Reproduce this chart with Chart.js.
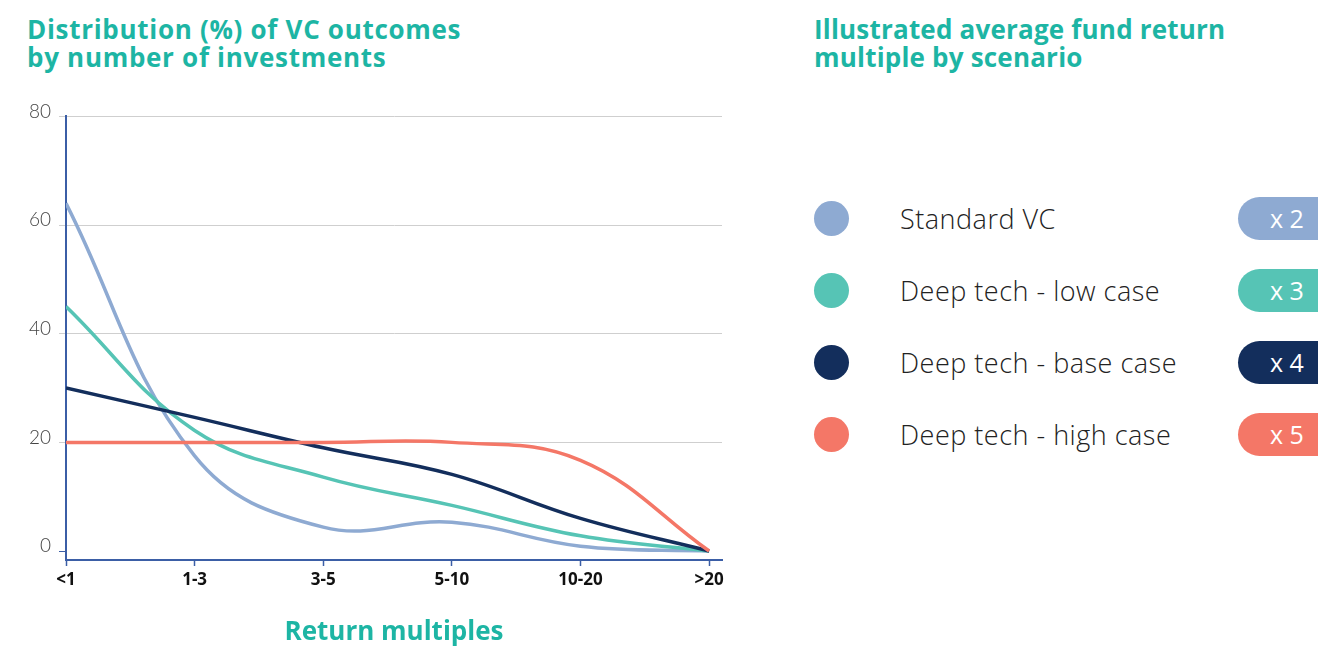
<!DOCTYPE html>
<html>
<head>
<meta charset="utf-8">
<script src="https://cdn.jsdelivr.net/npm/chart.js@4.4.1/dist/chart.umd.min.js"></script>
<style>
  html, body { margin: 0; padding: 0; background: #fff; }
  body { width: 1318px; height: 648px; overflow: hidden; position: relative; font-family: Lato, "Open Sans", sans-serif; }
  .title { position: absolute; color: #1db5a4; font-family: "Open Sans", sans-serif; font-weight: 700; font-size: 26px; letter-spacing: 0.4px; line-height: 28px; }
  #chartBox { position: absolute; left: 0; top: 97px; width: 740px; height: 551px; }
  .row { position: absolute; left: 814px; height: 44px; width: 520px; }
  .dot { position: absolute; left: 0; top: 4px; width: 35px; height: 35px; border-radius: 50%; }
  .label { position: absolute; left: 86px; top: 0; line-height: 44px; font-size: 27px; letter-spacing: 0.5px; font-weight: 300; color: #222; font-family: "Open Sans", sans-serif; white-space: nowrap; }
  .pill { position: absolute; left: 424px; top: 0; width: 120px; height: 43px; border-radius: 22px; color: #fff; font-size: 25px; line-height: 43px; padding-left: 32px; box-sizing: border-box; font-family: "Open Sans", sans-serif; font-weight: 400; }
</style>
</head>
<body>
<div class="title" style="left:27px; top:15px; letter-spacing:0.7px;">Distribution (%) of VC outcomes<br>by number of investments</div>
<div class="title" style="left:814px; top:15px; letter-spacing:0.2px;">Illustrated average fund return<br>multiple by scenario</div>
<div id="chartBox"><canvas id="vcChart"></canvas></div>
<div id="legend"></div>
<script>
const categories = ['<1', '1-3', '3-5', '5-10', '10-20', '>20'];
const standardVC = [64, 17.5, 4.4, 5.3, 0.9, 0];
const lowCase = [45, 22.2, 13.6, 8.4, 2.8, 0];
const baseCase = [30, 24.6, 19, 14.1, 6, 0];
const highCase = [20, 20, 20, 20, 16.7, 0];
const yTicks = [0, 20, 40, 60, 80];

const seriesNames = ['Standard VC', 'Deep tech - low case', 'Deep tech - base case', 'Deep tech - high case'];
const seriesColors = ['#8eaad2', '#56c4b5', '#132e5c', '#f47767'];
const multiples = ['x 2', 'x 3', 'x 4', 'x 5'];

const axisBlue = '#3b5ea6';

// Legend with multiples on the right side
function buildLegend() {
    const legend = document.getElementById('legend');
    seriesNames.forEach((name, i) => {
        const row = document.createElement('div');
        row.className = 'row';
        row.style.top = (197 + i * 72) + 'px';
        row.innerHTML = `<div class="dot" style="background:${seriesColors[i]}"></div>` +
            `<div class="label">${name}</div>` +
            `<div class="pill" style="background:${seriesColors[i]}">${multiples[i]}</div>`;
        legend.appendChild(row);
    });
}

function toPoints(values) {
    return values.map((v, i) => ({ x: i, y: v }));
}

function drawChart() {
    const ctx = document.getElementById('vcChart').getContext('2d');
    const allSeries = [standardVC, lowCase, baseCase, highCase];

    new Chart(ctx, {
        type: 'line',
        data: {
            datasets: allSeries.map((values, i) => ({
                label: seriesNames[i],
                data: toPoints(values),
                borderColor: seriesColors[i],
                borderWidth: 3.5,
                pointRadius: 0,
                tension: 0.4,
                fill: false
            })).reverse()
        },
        options: {
            responsive: true,
            maintainAspectRatio: false,
            animation: false,
            layout: { padding: { top: 7, right: 18 } },
            plugins: {
                legend: { display: false },
                tooltip: { enabled: false }
            },
            scales: {
                x: {
                    type: 'linear',
                    min: 0,
                    max: 5.1,
                    afterBuildTicks: scale => { scale.ticks = categories.map((c, i) => ({ value: i })); },
                    afterFit: scale => { scale.height = 88; },
                    border: { display: true, color: axisBlue, width: 2 },
                    grid: { drawOnChartArea: false, tickLength: 6, tickColor: axisBlue, tickWidth: 1.5 },
                    ticks: {
                        padding: 4,
                        color: '#111',
                        font: { family: '"Open Sans", sans-serif', size: 17, weight: 'bold' },
                        callback: value => categories[value]
                    },
                    title: {
                        display: true,
                        text: 'Return multiples',
                        color: '#1db5a4',
                        padding: { top: 0, bottom: 0 },
                        font: { family: '"Open Sans", sans-serif', size: 26, weight: 'bold' }
                    }
                },
                y: {
                    min: -1.65,
                    max: 80,
                    afterBuildTicks: scale => { scale.ticks = yTicks.map(v => ({ value: v })); },
                    afterFit: scale => { scale.width = 66; },
                    border: { display: true, color: axisBlue, width: 2 },
                    grid: {
                        color: c => c.tick.value === 0 ? 'rgba(0,0,0,0)' : '#cfcfcf',
                        tickColor: c => c.tick.value === 0 ? axisBlue : '#cfcfcf',
                        tickLength: 7,
                        lineWidth: 1
                    },
                    ticks: {
                        padding: 8,
                        labelOffset: -5,
                        color: '#444',
                        font: { family: 'Lato, sans-serif', size: 19, weight: 300 }
                    }
                }
            }
        }
    });
}

window.onload = function () {
    buildLegend();
    drawChart();
};
</script>
</body>
</html>
